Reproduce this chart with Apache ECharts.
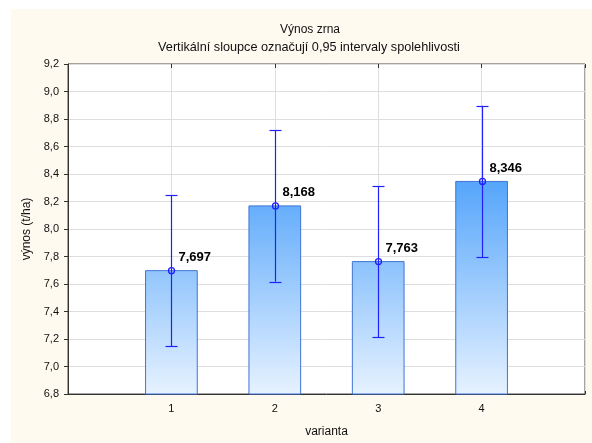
<!DOCTYPE html>
<html>
<head>
<meta charset="utf-8">
<script src="https://cdn.jsdelivr.net/npm/echarts@6/dist/echarts.min.js"></script>
<style>
  html, body { margin: 0; padding: 0; background: #ffffff; }
  #chart { width: 592px; height: 443px; }
</style>
</head>
<body>
<div id="chart"></div>
<script>
// Mean grain yield per variant with 95 % confidence intervals
const variants = [1, 2, 3, 4];
const means = [7.697, 8.168, 7.763, 8.346];
const ciLow = [7.148, 7.617, 7.211, 7.795];
const ciHigh = [8.246, 8.719, 8.312, 8.896];
const yTicks = { min: 6.8, max: 9.2, step: 0.2 };

const FONT = '"Liberation Sans", Arial, sans-serif';
const fmt = v => v.toFixed(3).replace('.', ',');

const chart = echarts.init(document.getElementById('chart'), null, { renderer: 'canvas' });

const barData = variants.map((v, i) => [v, means[i]]);
const errData = variants.map((v, i) => [v, means[i], ciLow[i], ciHigh[i]]);

// frame axes on top/right only carry inward tick marks
const mirrorTick = { show: true, inside: true, length: 4, lineStyle: { color: '#333' } };

chart.setOption({
  animation: false,
  backgroundColor: '#ffffff',
  graphic: [{
    type: 'rect', z: -10, silent: true,
    shape: { x: 11, y: 9, width: 600, height: 450 },
    style: { fill: '#fffaf0' }
  }],
  title: [
    { text: 'Výnos zrna', left: 305, top: 19, textAlign: 'center',
      textStyle: { fontFamily: FONT, fontSize: 12, fontWeight: 'normal', color: '#111' } },
    { text: 'Vertikální sloupce označují 0,95 intervaly spolehlivosti', left: 304, top: 36, textAlign: 'center',
      textStyle: { fontFamily: FONT, fontSize: 12.7, fontWeight: 'normal', color: '#111' } }
  ],
  grid: { left: 68, right: 7, top: 64, bottom: 49, show: true, backgroundColor: '#ffffff',
          borderColor: '#4a4a4a', borderWidth: 1 },
  xAxis: [{
    type: 'value', min: 0, max: 5, interval: 1,
    name: 'varianta', nameLocation: 'middle', nameGap: 32,
    nameTextStyle: { fontFamily: FONT, fontSize: 12, color: '#111' },
    axisLine: { show: true, lineStyle: { color: '#333', width: 1 } },
    axisTick: { show: true, inside: true, length: 3, lineStyle: { color: '#333' } },
    axisLabel: { fontFamily: FONT, fontSize: 11, color: '#111', margin: 9,
                 formatter: v => (v >= 1 && v <= 4 ? String(v) : '') },
    splitLine: { show: true, lineStyle: { color: '#dedede', width: 1 } }
  }, {
    type: 'value', position: 'top', min: 0, max: 5, interval: 1,
    axisLine: { show: false }, axisTick: mirrorTick,
    axisLabel: { show: false }, splitLine: { show: false }
  }],
  yAxis: [{
    type: 'value', min: yTicks.min, max: yTicks.max, interval: yTicks.step,
    name: 'výnos (t/ha)', nameLocation: 'middle', nameGap: 35, nameRotate: 90,
    nameTextStyle: { fontFamily: FONT, fontSize: 12, color: '#111' },
    axisLine: { show: true, lineStyle: { color: '#333', width: 1 } },
    axisTick: { show: false },
    axisLabel: { fontFamily: FONT, fontSize: 11, color: '#111', margin: 9,
                 formatter: v => v.toFixed(1).replace('.', ',') },
    splitLine: { show: true, lineStyle: { color: '#dedede', width: 1 } }
  }, {
    type: 'value', position: 'right', min: yTicks.min, max: yTicks.max, interval: yTicks.step,
    axisLine: { show: false }, axisTick: mirrorTick,
    axisLabel: { show: false }, splitLine: { show: false }
  }],
  series: [
    {
      // bars with a gradient anchored to the plot scale
      type: 'custom',
      data: barData,
      z: 2,
      renderItem: (params, api) => {
        const x = api.value(0), y = api.value(1);
        const base = api.coord([x - 0.25, yTicks.min]);
        const top = api.coord([x + 0.25, y]);
        const g0 = api.coord([0, yTicks.min])[1];
        const g1 = api.coord([0, 8.35])[1];
        return {
          type: 'rect',
          shape: { x: base[0], y: top[1], width: top[0] - base[0], height: base[1] - top[1] },
          style: {
            fill: new echarts.graphic.LinearGradient(0, g0, 0, g1, [
              { offset: 0, color: '#e6f2ff' },
              { offset: 1, color: '#55a5fb' }
            ], true),
            stroke: '#3f74d6', lineWidth: 1
          }
        };
      }
    },
    {
      // confidence interval whiskers, mean marker and value label
      type: 'custom',
      data: errData,
      z: 5,
      renderItem: (params, api) => {
        const x = api.value(0);
        const m = api.coord([x, api.value(1)]);
        const lo = api.coord([x, api.value(2)]);
        const hi = api.coord([x, api.value(3)]);
        const cx = Math.round(m[0]) + 0.5;
        const c = '#2020ff';
        const cap = 6;
        return {
          type: 'group',
          children: [
            { type: 'line', shape: { x1: cx, y1: hi[1], x2: cx, y2: lo[1] }, style: { stroke: c, lineWidth: 1.2 } },
            { type: 'line', shape: { x1: cx - cap, y1: Math.round(hi[1]) + 0.5, x2: cx + cap, y2: Math.round(hi[1]) + 0.5 }, style: { stroke: c, lineWidth: 1.2 } },
            { type: 'line', shape: { x1: cx - cap, y1: Math.round(lo[1]) + 0.5, x2: cx + cap, y2: Math.round(lo[1]) + 0.5 }, style: { stroke: c, lineWidth: 1.2 } },
            { type: 'circle', shape: { cx: cx, cy: m[1], r: 3 }, style: { stroke: c, fill: 'rgba(0,0,0,0)', lineWidth: 1.3 } },
            { type: 'text', x: cx + 7, y: m[1] - 7,
              style: { text: fmt(api.value(1)), fontFamily: FONT, fontSize: 13, fontWeight: 'bold',
                       fill: '#000', textAlign: 'left', textVerticalAlign: 'bottom' } }
          ]
        };
      }
    }
  ]
});
</script>
</body>
</html>
